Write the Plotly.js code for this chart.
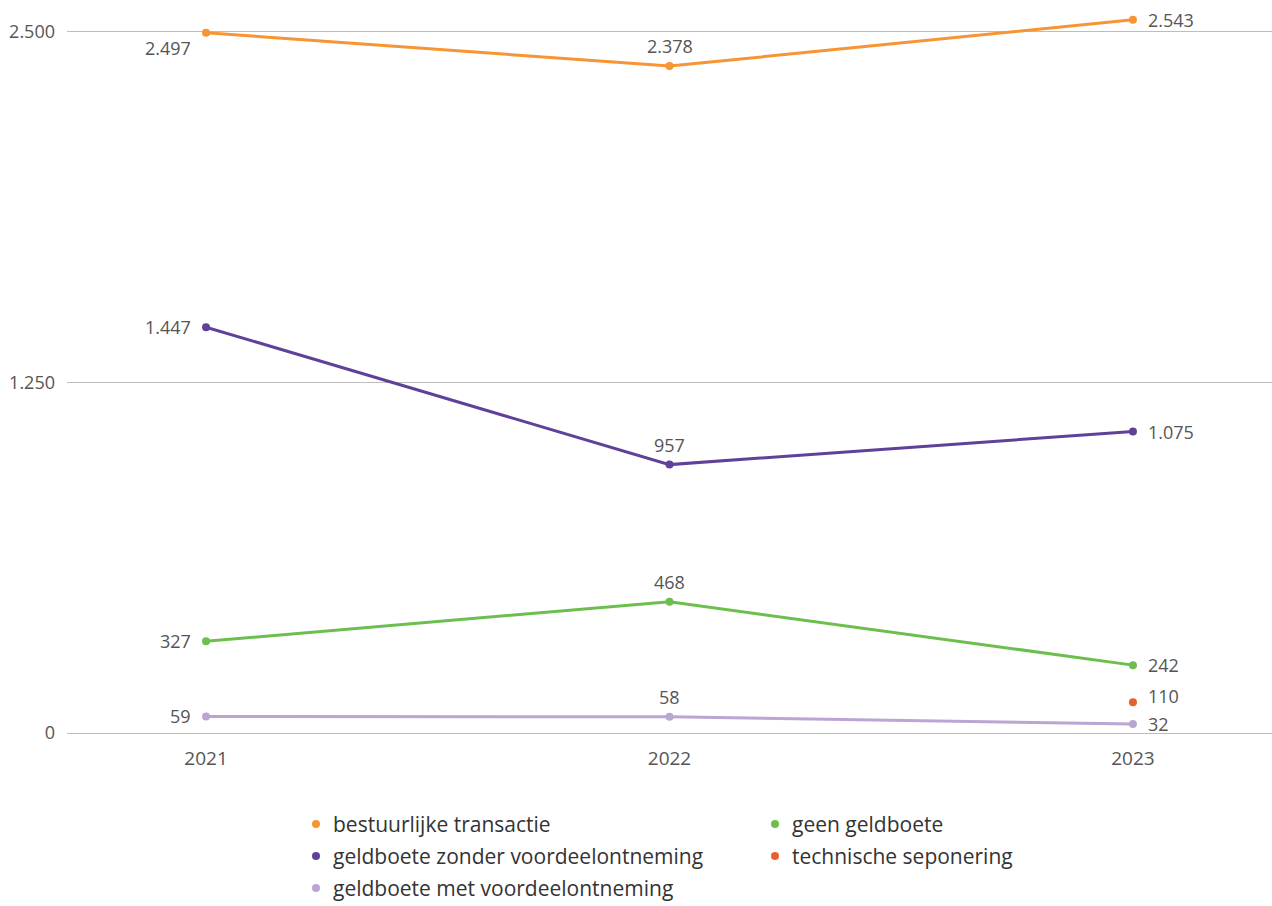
<!DOCTYPE html>
<html>
<head>
<meta charset="utf-8">
<script src="https://cdn.plot.ly/plotly-3.0.1.min.js"></script>
<style>html,body{margin:0;padding:0;background:#fff;}#chart{width:1272px;height:906px;}</style>
</head>
<body>
<div id="chart"></div>
<script>
const years = ['2021', '2022', '2023'];
const bestuurlijkeTransactie = [2497, 2378, 2543];
const geldboeteZonder = [1447, 957, 1075];
const geenGeldboete = [327, 468, 242];
const geldboeteMet = [59, 58, 32];
const technischeSeponering = [null, null, 110];
const yTickVals = [0, 1250, 2500];
const yTickText = ['0', '1.250', '2.500'];
const seriesNames = ['bestuurlijke transactie', 'geldboete zonder voordeelontneming', 'geldboete met voordeelontneming', 'geen geldboete', 'technische seponering'];
const seriesColors = ['#f79433', '#5f4199', '#bba6d3', '#6cbf4e', '#e8602e'];
const seriesValues = [bestuurlijkeTransactie, geldboeteZonder, geldboeteMet, geenGeldboete, technischeSeponering];

const textColor = '#555555';
const fontFamily = 'Open Sans, Noto Sans, sans-serif';

const W = 1272, H = 906;
const M = {l: 67, r: 0, t: 10, b: 173};
const plotW = W - M.l - M.r, plotH = H - M.t - M.b;

function fmt(v) {
  return String(v).replace(/\B(?=(\d{3})+(?!\d))/g, '.');
}

const traces = [];
const annotations = [];
const shapes = [];

// label placement per year index: 2021 left, 2022 above, 2023 right
const placement = [
  {xanchor: 'right', yshift: 0, xshift: -13},
  {xanchor: 'center', yshift: 20, xshift: 0},
  {xanchor: 'left', yshift: 0, xshift: 13}
];

seriesValues.forEach((vals, s) => {
  const isLine = vals.filter(v => v !== null).length > 1;
  traces.push({
    type: 'scatter', mode: isLine ? 'lines+markers' : 'markers', name: seriesNames[s],
    x: years, y: vals,
    line: {color: seriesColors[s], width: 3},
    marker: {color: seriesColors[s], size: 8},
    cliponaxis: false, showlegend: false
  });
  vals.forEach((v, i) => {
    if (v === null) return;
    const p = Object.assign({}, placement[i]);
    if (s === 0 && i === 0) { p.yshift = -15; }
    if (s === 4) { p.yshift = 6; }
    annotations.push({
      x: i, y: v, xref: 'x', yref: 'y', text: fmt(v), showarrow: false,
      xanchor: p.xanchor, yanchor: 'middle', xshift: p.xshift, yshift: p.yshift,
      font: {family: fontFamily, size: 18, color: textColor}
    });
  });
});

// legend drawn with shapes + annotations (two columns), pixel positions converted to paper coords
const legendCols = [316, 775];
const legendRows = [824, 856, 888];
const legendSlots = [[0, 0], [0, 1], [0, 2], [1, 0], [1, 1]];
seriesNames.forEach((name, s) => {
  const px = legendCols[legendSlots[s][0]];
  const py = legendRows[legendSlots[s][1]];
  const xp = (px - M.l) / plotW, yp = (H - M.b - py) / plotH;
  shapes.push({
    type: 'circle', xref: 'paper', yref: 'paper', xsizemode: 'pixel', ysizemode: 'pixel',
    xanchor: xp, yanchor: yp, x0: -4, x1: 4, y0: -4, y1: 4,
    fillcolor: seriesColors[s], line: {width: 0}
  });
  annotations.push({
    xref: 'paper', yref: 'paper', x: xp, y: yp, xshift: 15, text: name, showarrow: false,
    xanchor: 'left', yanchor: 'middle',
    font: {family: fontFamily, size: 21, color: '#333333'}
  });
});

const layout = {
  width: W, height: H,
  margin: {l: M.l, r: M.r, t: M.t, b: M.b, autoexpand: false},
  paper_bgcolor: '#ffffff', plot_bgcolor: '#ffffff',
  font: {family: fontFamily, color: textColor},
  showlegend: false,
  xaxis: {
    type: 'category', range: [-0.3, 2.3],
    showgrid: false, zeroline: false, showline: false,
    ticks: '', tickfont: {size: 19, color: textColor},
    ticklabelstandoff: 12
  },
  yaxis: {
    range: [0, 2578],
    tickmode: 'array', tickvals: yTickVals, ticktext: yTickText,
    showgrid: true, gridcolor: '#bdbdbd', gridwidth: 1,
    zeroline: true, zerolinecolor: '#bdbdbd', zerolinewidth: 1,
    showline: false, ticks: '',
    tickfont: {size: 18, color: textColor},
    ticklabelstandoff: 11
  },
  annotations: annotations,
  shapes: shapes
};

Plotly.newPlot('chart', traces, layout, {displayModeBar: false, staticPlot: true});
</script>
</body>
</html>
